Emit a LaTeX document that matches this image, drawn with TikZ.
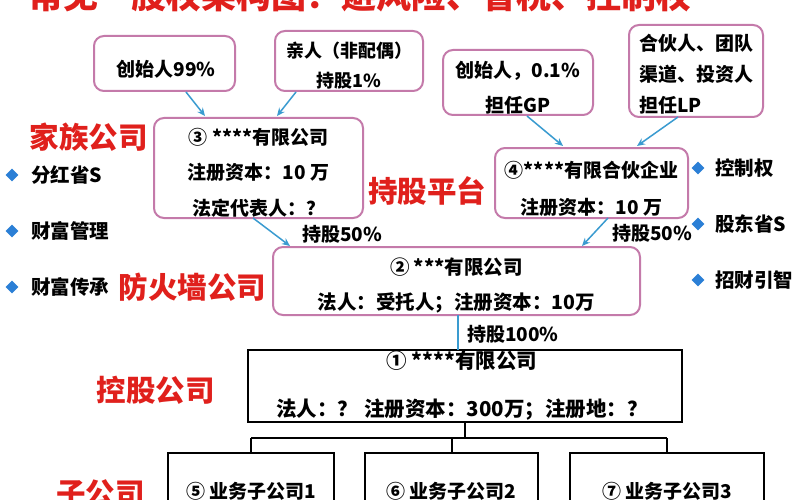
\documentclass[tikz,border=0pt]{standalone}
\usepackage{fontspec}
\setmainfont{Noto Sans CJK SC}
\usetikzlibrary{arrows.meta,shapes.geometric}
\definecolor{pinkb}{HTML}{C47AAA}
\definecolor{redt}{HTML}{E0201C}
\definecolor{bluea}{HTML}{3A9BD0}
\definecolor{blued}{HTML}{2B7FD6}
\begin{document}
\begin{tikzpicture}[x=1pt,y=-1pt,
  pbox/.style={draw=pinkb, line width=2pt, rounded corners=10pt, inner sep=0pt},
  kbox/.style={draw=black, line width=2pt, inner sep=0pt},
  txt/.style={font=\bfseries\fontsize{19}{30}\selectfont, align=center, inner sep=0pt},
  redl/.style={text=redt, font=\bfseries\fontsize{29.5}{32}\selectfont, inner sep=0pt},
  arr/.style={draw=bluea, line width=1.5pt, -{Stealth[length=8pt,width=7pt]}},
  dia/.style={diamond, fill=blued, inner sep=0pt, minimum size=13pt},
  btxt/.style={font=\bfseries\fontsize{19.5}{24}\selectfont, inner sep=0pt, anchor=west}]
\useasboundingbox (0,0) rectangle (800,500);
\clip (0,0) rectangle (800,500);
\fill[white] (0,0) rectangle (800,500);

% title (cut off at top)
\node[anchor=base, text=redt, font=\bfseries\fontsize{35}{36}\selectfont, inner sep=0pt] (title) at (360,8.5) {常见—股权架构图：避风险、省税、控制权};

% top boxes
\node[pbox, minimum width=141pt, minimum height=55pt] (bA) at (164.5,63.5) {};
\node[txt] (tA) at (166,69) {创始人99\%};
\node[pbox, minimum width=148pt, minimum height=60pt] (bB) at (349,61) {};
\node[txt, font=\bfseries\fontsize{18}{30}\selectfont] (tB) at (349,66) {亲人（非配偶）\\持股1\%};
\node[pbox, minimum width=150pt, minimum height=65pt] (bC) at (518,82.5) {};
\node[txt, font=\bfseries\fontsize{19}{35}\selectfont] (tC) at (518,88) {创始人，0.1\%\\担任GP};
\node[pbox, minimum width=134pt, minimum height=92pt] (bD) at (696,71) {};
\node[txt, align=left, font=\bfseries\fontsize{19}{31}\selectfont] (tD) at (696,74) {合伙人、团队\\渠道、投资人\\担任LP};

% box 3 and box 4
\node[pbox, minimum width=209pt, minimum height=100pt] (b3) at (258.5,168) {};
\node[txt, font=\bfseries\fontsize{19}{35.5}\selectfont] (t3) at (258.5,172.5) {③ ****有限公司\\注册资本：10 万\\法定代表人：？};
\node[pbox, minimum width=193pt, minimum height=70pt] (b4) at (591.5,183) {};
\node[txt, font=\bfseries\fontsize{19}{37}\selectfont] (t4) at (591.5,188.5) {④****有限合伙企业\\注册资本：10 万};

% box 2
\node[pbox, minimum width=367pt, minimum height=68pt] (b2) at (456.5,281) {};
\node[txt, font=\bfseries\fontsize{19.5}{35}\selectfont] (t2) at (456.5,285.5) {② ***有限公司\\法人：受托人；注册资本：10万};

% box 1
\node[kbox, minimum width=434pt, minimum height=72pt] (b1) at (465,386) {};
\node[txt, font=\bfseries\fontsize{20.5}{48}\selectfont] (t1) at (462,386) {① ****有限公司\\法人：？\hspace{6pt}注册资本：300万；注册地：？};

% children
\node[kbox, minimum width=166pt, minimum height=80pt, anchor=north] (c5) at (251,452) {};
\node[txt] (t5) at (251,491) {⑤ 业务子公司1};
\node[kbox, minimum width=173pt, minimum height=80pt, anchor=north] (c6) at (451.5,452) {};
\node[txt] (t6) at (451.5,491) {⑥ 业务子公司2};
\node[kbox, minimum width=194pt, minimum height=80pt, anchor=north] (c7) at (667,452) {};
\node[txt] (t7) at (667,491) {⑦ 业务子公司3};

% red labels
\node[redl] (l1) at (88.5,137) {家族公司};
\node[redl] (l2) at (427,191) {持股平台};
\node[redl] (l3) at (192.5,287) {防火墙公司};
\node[redl] (l4) at (155.5,390) {控股公司};
\node[redl] (l5) at (100.5,494) {子公司};

% bullets left
\node[dia] (d1) at (12,175) {};
\node[btxt] (s1) at (31,175) {分红省S};
\node[dia] (d2) at (12,231) {};
\node[btxt] (s2) at (31,231) {财富管理};
\node[dia] (d3) at (12,287) {};
\node[btxt] (s3) at (31,287) {财富传承};
% bullets right
\node[dia] (d4) at (698,168) {};
\node[btxt] (s4) at (715,168) {控制权};
\node[dia] (d5) at (698,224) {};
\node[btxt] (s5) at (715,224) {股东省S};
\node[dia] (d6) at (698,280) {};
\node[btxt] (s6) at (715,280) {招财引智};

% arrows
\coordinate (aA) at (186,92);
\coordinate (eA) at (205,116);
\coordinate (aB) at (296,92);
\coordinate (eB) at (277,116);
\coordinate (aC) at (527,116);
\coordinate (eC) at (563,146);
\coordinate (aD) at (678,117);
\coordinate (eD) at (637,146);
\coordinate (a3) at (253,218);
\coordinate (e3) at (290,246);
\coordinate (a4) at (608,218);
\coordinate (e4) at (582,246);
\draw[arr] (aA) -- (eA);
\draw[arr] (aB) -- (eB);
\draw[arr] (aC) -- (eC);
\draw[arr] (aD) -- (eD);
\draw[arr] (a3) -- (e3);
\draw[arr] (a4) -- (e4);
\node[txt, anchor=west] (p1) at (302,234) {持股50\%};
\node[txt, anchor=west] (p2) at (612,233) {持股50\%};

% 100% link
\coordinate (k2) at (458,315);
\coordinate (k1) at (458,350);
\draw[draw=bluea, line width=1.5pt] (k2) -- (k1);
\node[txt, anchor=west] (p3) at (467,334) {持股100\%};

% tree
\coordinate (j) at (465,438);
\draw[line width=2pt] (b1.south -| j) -- (j);
\draw[line width=2pt] (c5.north |- j) -- (c7.north |- j);
\draw[line width=2pt] (c5.north |- j) -- (c5.north);
\draw[line width=2pt] (c6.north |- j) -- (c6.north);
\draw[line width=2pt] (c7.north |- j) -- (c7.north);
\end{tikzpicture}
\end{document}
